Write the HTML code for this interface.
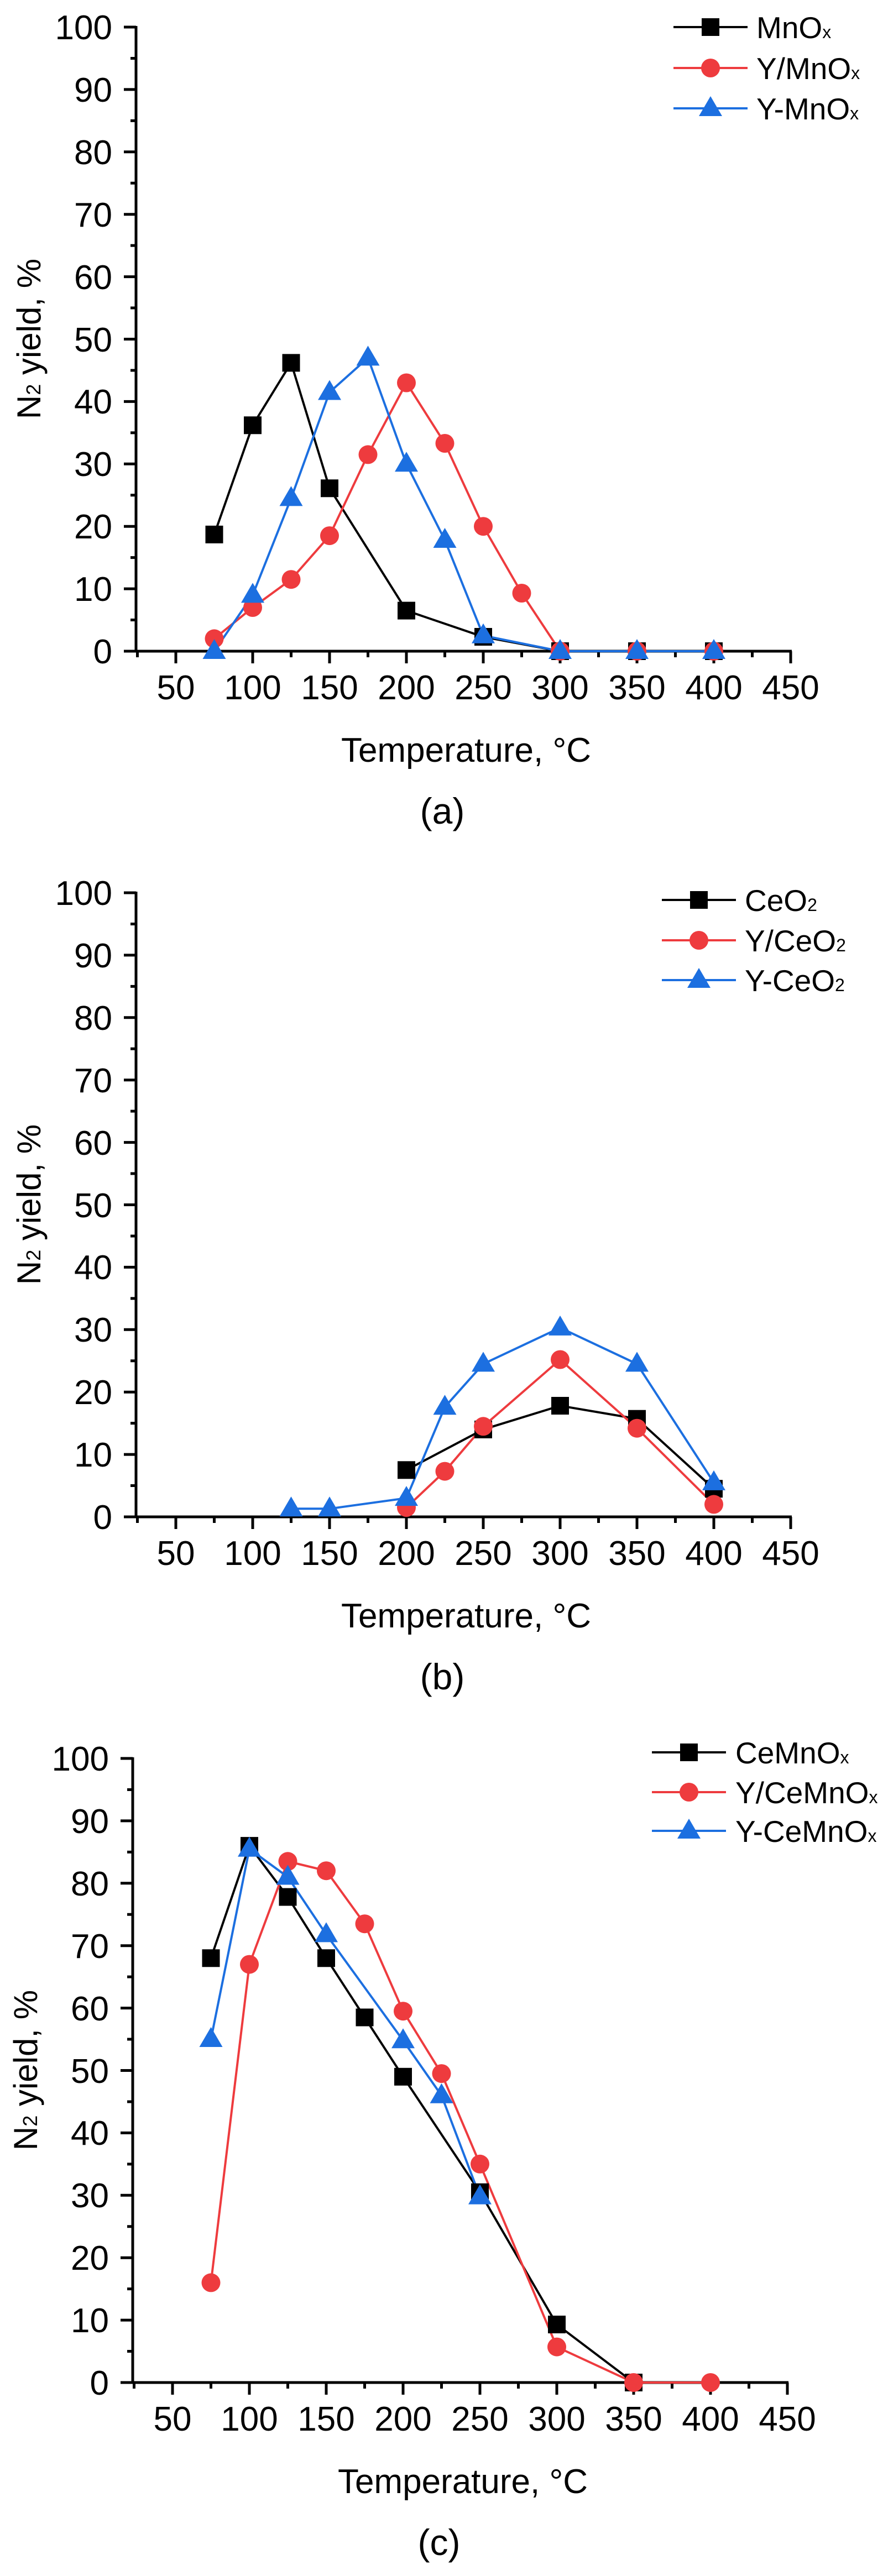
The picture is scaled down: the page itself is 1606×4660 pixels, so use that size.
<!DOCTYPE html>
<html><head><meta charset="utf-8"><style>
html,body{margin:0;padding:0;background:#fff}
svg{display:block}
text{font-family:"Liberation Sans",Arial,sans-serif;fill:#000}
</style></head><body>
<svg width="1606" height="4660" viewBox="0 0 1606 4660" xmlns="http://www.w3.org/2000/svg">
<defs>
<rect id="sq" x="-16" y="-16" width="32" height="32" fill="#000"/>
<circle id="ci" cx="0" cy="0" r="17" fill="#ee3b3e"/>
<polygon id="tr" points="0,-22 21,14 -21,14" fill="#1c6fe0"/>
<g id="axes">
<path d="M246,0V-1131M226,0H1432" stroke="#000" stroke-width="5" fill="none"/>
<path d="M224,0H246M224,-112.9H246M224,-225.8H246M224,-338.7H246M224,-451.6H246M224,-564.5H246M224,-677.4H246M224,-790.3H246M224,-903.2H246M224,-1016.1H246M224,-1129H246
M236,-56.45H246M236,-169.35H246M236,-282.25H246M236,-395.15H246M236,-508.05H246M236,-620.95H246M236,-733.85H246M236,-846.75H246M236,-959.65H246M236,-1072.55H246
M318,0V22M457,0V22M596,0V22M735,0V22M874,0V22M1013,0V22M1152,0V22M1291,0V22M1430,0V22
M248.5,0V11M387.5,0V11M526.5,0V11M665.5,0V11M804.5,0V11M943.5,0V11M1082.5,0V11M1221.5,0V11M1360.5,0V11" stroke="#000" stroke-width="5" fill="none"/>
<g font-size="62" text-anchor="end">
<text x="203" y="22">0</text><text x="203" y="-91">10</text><text x="203" y="-204">20</text><text x="203" y="-317">30</text><text x="203" y="-430">40</text><text x="203" y="-542">50</text><text x="203" y="-655">60</text><text x="203" y="-768">70</text><text x="203" y="-881">80</text><text x="203" y="-994">90</text><text x="203" y="-1107">100</text>
</g>
<g font-size="62" text-anchor="middle">
<text x="318" y="87">50</text><text x="457" y="87">100</text><text x="596" y="87">150</text><text x="735" y="87">200</text><text x="874" y="87">250</text><text x="1013" y="87">300</text><text x="1152" y="87">350</text><text x="1291" y="87">400</text><text x="1430" y="87">450</text>
<text x="843" y="200">Temperature, °C</text>
</g>
<text transform="translate(73,-565) rotate(-90)" font-size="60" text-anchor="middle">N<tspan font-size="36">2</tspan> yield, %</text>
</g>
</defs>

<!-- Panel a -->
<g transform="translate(0,1178)"><use href="#axes"/></g>
<text x="800" y="1490" font-size="66" text-anchor="middle">(a)</text>
<polyline fill="none" stroke="#000" stroke-width="4" points="387.5,966.9 457,769.3 526.5,656.4 596,883.3 735,1104.6 874,1152 1013,1178 1152,1178 1291,1178"/>
<polyline fill="none" stroke="#ee3b3e" stroke-width="4" points="387.5,1155.4 457,1099 526.5,1048.2 596,969.1 665.5,822.4 735,692.5 804.5,802 874,952.2 943.5,1073 1013,1178 1152,1178 1291,1178"/>
<polyline fill="none" stroke="#1c6fe0" stroke-width="4" points="387.5,1178 457,1076.4 526.5,901.4 596,709.5 665.5,647.4 735,839.3 804.5,977 874,1149.8 1013,1178 1152,1178 1291,1178"/>
<use href="#sq" x="387.5" y="966.9"/><use href="#sq" x="457" y="769.3"/><use href="#sq" x="526.5" y="656.4"/><use href="#sq" x="596" y="883.3"/><use href="#sq" x="735" y="1104.6"/><use href="#sq" x="874" y="1152"/><use href="#sq" x="1013" y="1178"/><use href="#sq" x="1152" y="1178"/><use href="#sq" x="1291" y="1178"/>
<use href="#ci" x="387.5" y="1155.4"/><use href="#ci" x="457" y="1099"/><use href="#ci" x="526.5" y="1048.2"/><use href="#ci" x="596" y="969.1"/><use href="#ci" x="665.5" y="822.4"/><use href="#ci" x="735" y="692.5"/><use href="#ci" x="804.5" y="802"/><use href="#ci" x="874" y="952.2"/><use href="#ci" x="943.5" y="1073"/><use href="#ci" x="1013" y="1178"/><use href="#ci" x="1152" y="1178"/><use href="#ci" x="1291" y="1178"/>
<use href="#tr" x="387.5" y="1178"/><use href="#tr" x="457" y="1076.4"/><use href="#tr" x="526.5" y="901.4"/><use href="#tr" x="596" y="709.5"/><use href="#tr" x="665.5" y="647.4"/><use href="#tr" x="735" y="839.3"/><use href="#tr" x="804.5" y="977"/><use href="#tr" x="874" y="1149.8"/><use href="#tr" x="1013" y="1178"/><use href="#tr" x="1152" y="1178"/><use href="#tr" x="1291" y="1178"/>
<path d="M1218,49H1352" stroke="#000" stroke-width="4"/><use href="#sq" x="1285" y="49"/>
<path d="M1218,123H1352" stroke="#ee3b3e" stroke-width="4"/><use href="#ci" x="1285" y="123"/>
<path d="M1218,196H1352" stroke="#1c6fe0" stroke-width="4"/><use href="#tr" x="1285" y="196"/>
<g font-size="55"><text x="1368" y="69">MnO<tspan font-size="32">x</tspan></text><text x="1368" y="143">Y/MnO<tspan font-size="32">x</tspan></text><text x="1368" y="216">Y-MnO<tspan font-size="32">x</tspan></text></g>

<!-- Panel b -->
<g transform="translate(0,2744)"><use href="#axes"/></g>
<text x="800" y="3056" font-size="66" text-anchor="middle">(b)</text>
<polyline fill="none" stroke="#000" stroke-width="4" points="735,2659.3 874,2585.9 1013,2543 1152,2566.7 1291,2693.2"/>
<polyline fill="none" stroke="#ee3b3e" stroke-width="4" points="735,2727.1 804.5,2661.6 874,2580.3 1013,2459.5 1152,2583.7 1291,2721.4"/>
<polyline fill="none" stroke="#1c6fe0" stroke-width="4" points="526.5,2729.3 596,2729.3 735,2710.1 804.5,2545.3 874,2467.4 1013,2401.9 1152,2467.4 1291,2681.9"/>
<use href="#sq" x="735" y="2659.3"/><use href="#sq" x="874" y="2585.9"/><use href="#sq" x="1013" y="2543"/><use href="#sq" x="1152" y="2566.7"/><use href="#sq" x="1291" y="2693.2"/>
<use href="#ci" x="735" y="2727.1"/><use href="#ci" x="804.5" y="2661.6"/><use href="#ci" x="874" y="2580.3"/><use href="#ci" x="1013" y="2459.5"/><use href="#ci" x="1152" y="2583.7"/><use href="#ci" x="1291" y="2721.4"/>
<use href="#tr" x="526.5" y="2729.3"/><use href="#tr" x="596" y="2729.3"/><use href="#tr" x="735" y="2710.1"/><use href="#tr" x="804.5" y="2545.3"/><use href="#tr" x="874" y="2467.4"/><use href="#tr" x="1013" y="2401.9"/><use href="#tr" x="1152" y="2467.4"/><use href="#tr" x="1291" y="2681.9"/>
<path d="M1197,1628H1331" stroke="#000" stroke-width="4"/><use href="#sq" x="1264" y="1628"/>
<path d="M1197,1701H1331" stroke="#ee3b3e" stroke-width="4"/><use href="#ci" x="1264" y="1701"/>
<path d="M1197,1773H1331" stroke="#1c6fe0" stroke-width="4"/><use href="#tr" x="1264" y="1773"/>
<g font-size="55"><text x="1347" y="1648">CeO<tspan font-size="32">2</tspan></text><text x="1347" y="1721">Y/CeO<tspan font-size="32">2</tspan></text><text x="1347" y="1793">Y-CeO<tspan font-size="32">2</tspan></text></g>

<!-- Panel c -->
<g transform="translate(-6,0)">
<g transform="translate(0,4310)"><use href="#axes"/></g>
<text x="800" y="4622" font-size="66" text-anchor="middle">(c)</text>
<polyline fill="none" stroke="#000" stroke-width="4" points="387.5,3542.3 457,3339.1 526.5,3431.6 596,3542.3 665.5,3649.5 735,3756.8 874,3965.7 1013,4205 1152,4310"/>
<polyline fill="none" stroke="#ee3b3e" stroke-width="4" points="387.5,4129.4 457,3553.6 526.5,3367.3 596,3384.2 665.5,3480.2 735,3638.2 804.5,3751.1 874,3914.8 1013,4245.6 1152,4310 1291,4310"/>
<polyline fill="none" stroke="#1c6fe0" stroke-width="4" points="387.5,3689 457,3344.7 526.5,3395.5 596,3499.4 735,3691.3 804.5,3790.7 874,3973.6"/>
<use href="#sq" x="387.5" y="3542.3"/><use href="#sq" x="457" y="3339.1"/><use href="#sq" x="526.5" y="3431.6"/><use href="#sq" x="596" y="3542.3"/><use href="#sq" x="665.5" y="3649.5"/><use href="#sq" x="735" y="3756.8"/><use href="#sq" x="874" y="3965.7"/><use href="#sq" x="1013" y="4205"/><use href="#sq" x="1152" y="4310"/>
<use href="#ci" x="387.5" y="4129.4"/><use href="#ci" x="457" y="3553.6"/><use href="#ci" x="526.5" y="3367.3"/><use href="#ci" x="596" y="3384.2"/><use href="#ci" x="665.5" y="3480.2"/><use href="#ci" x="735" y="3638.2"/><use href="#ci" x="804.5" y="3751.1"/><use href="#ci" x="874" y="3914.8"/><use href="#ci" x="1013" y="4245.6"/><use href="#ci" x="1152" y="4310"/><use href="#ci" x="1291" y="4310"/>
<use href="#tr" x="387.5" y="3689"/><use href="#tr" x="457" y="3344.7"/><use href="#tr" x="526.5" y="3395.5"/><use href="#tr" x="596" y="3499.4"/><use href="#tr" x="735" y="3691.3"/><use href="#tr" x="804.5" y="3790.7"/><use href="#tr" x="874" y="3973.6"/>
</g>
<path d="M1179,3170H1313" stroke="#000" stroke-width="4"/><use href="#sq" x="1246" y="3170"/>
<path d="M1179,3242H1313" stroke="#ee3b3e" stroke-width="4"/><use href="#ci" x="1246" y="3242"/>
<path d="M1179,3312H1313" stroke="#1c6fe0" stroke-width="4"/><use href="#tr" x="1246" y="3312"/>
<g font-size="55"><text x="1330" y="3190">CeMnO<tspan font-size="32">x</tspan></text><text x="1330" y="3262">Y/CeMnO<tspan font-size="32">x</tspan></text><text x="1330" y="3332">Y-CeMnO<tspan font-size="32">x</tspan></text></g>
</svg>
</body></html>
